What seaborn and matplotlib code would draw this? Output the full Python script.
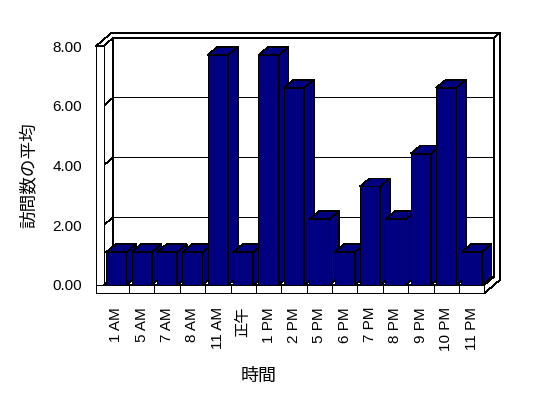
import matplotlib
matplotlib.use("Agg")
import matplotlib.pyplot as plt
import seaborn as sns
import pandas as pd
from matplotlib.patches import Polygon, Rectangle

# ---- data ----
hours = ["1 AM", "5 AM", "7 AM", "8 AM", "11 AM", "正午", "1 PM", "2 PM",
         "5 PM", "6 PM", "7 PM", "8 PM", "9 PM", "10 PM", "11 PM"]
avg_visits = [1.1, 1.1, 1.1, 1.1, 7.7, 1.1, 7.7, 6.6,
              2.2, 1.1, 3.3, 2.2, 4.4, 6.6, 1.1]
y_ticks = [0, 2, 4, 6, 8]
y_tick_labels = ["0.00", "2.00", "4.00", "6.00", "8.00"]
x_title = "時間"
y_title = "訪問数の平均"

sns.set_theme(style="white")
plt.rcParams["font.family"] = ["Liberation Sans", "Noto Sans CJK JP", "DejaVu Sans"]

W, H = 548, 398
fig = plt.figure(figsize=(W / 100, H / 100), dpi=100)
fig.patch.set_facecolor("white")

# front plane of the plot box in pixels
L, R, T, B = 103.6, 484.3, 46.0, 285.0
ax = fig.add_axes([L / W, 1 - B / H, (R - L) / W, (B - T) / H])

lw = 0.5
df = pd.DataFrame({"hour": hours, "avg": avg_visits})
sns.barplot(data=df, x="hour", y="avg", color="#000080", saturation=1,
            width=0.8, edgecolor="black", linewidth=lw, ax=ax)
bars = sorted([q for q in ax.patches if isinstance(q, Rectangle)],
              key=lambda q: q.get_x())

n = len(hours)
x0, x1 = -0.5, n - 0.5
y0, y1 = 0, 8
ax.set_xlim(x0, x1)
ax.set_ylim(y0, y1)

sx = (R - L) / n          # px per category
sy = (B - T) / (y1 - y0)  # px per value unit
ddx, ddy = 9.7 / sx, 8.3 / sy      # depth vector
wth = 7.5 / sx                     # left wall thickness
fth = 8.3 / sy                     # floor thickness
K = 1.6                            # outer depth (back wall thickness)

def dp(x, y, k):
    return (x + k * ddx, y + k * ddy)

def poly(pts, z, fc="white"):
    p = Polygon(pts, closed=True, facecolor=fc, edgecolor="black",
                linewidth=lw, clip_on=False, zorder=z, joinstyle="miter",
                antialiased=False)
    ax.add_patch(p)

def line(a, b, z):
    ax.plot([a[0], b[0]], [a[1], b[1]], color="black", lw=lw,
            clip_on=False, zorder=z, solid_capstyle="butt", antialiased=False)

# back wall inner face
poly([dp(x0, y0, 1), dp(x1, y0, 1), dp(x1, y1, 1), dp(x0, y1, 1)], 1)
for yv in y_ticks[1:-1]:
    line(dp(x0, yv, 1), dp(x1, yv, 1), 1.1)
# left wall inner face
poly([(x0, y0), dp(x0, y0, 1), dp(x0, y1, 1), (x0, y1)], 1.2)
for yv in y_ticks:
    line((x0, yv), dp(x0, yv, 1), 1.3)
# top face of walls
poly([(x0 - wth, y1), (x0, y1), dp(x0, y1, 1), dp(x1, y1, 1),
      dp(x1, y1, K), dp(x0 - wth, y1, K)], 1.4)
# right face of back wall + floor
poly([dp(x1, y1, 1), dp(x1, y1, K), dp(x1, y0 - fth, K), (x1, y0 - fth),
      (x1, y0), dp(x1, y0, 1)], 1.5)
# left wall front face
poly([(x0 - wth, y0), (x0, y0), (x0, y1), (x0 - wth, y1)], 1.6)
# floor top face
poly([(x0, y0), (x1, y0), dp(x1, y0, 1), dp(x0, y0, 1)], 1.7)
# floor front face with dividers
poly([(x0 - wth, y0 - fth), (x1, y0 - fth), (x1, y0), (x0 - wth, y0)], 1.8)
for i in range(n - 1):
    line((i + 0.5, y0 - fth), (i + 0.5, y0), 1.9)

# 3D bar faces (tops and right sides) built from seaborn's bars
bdx, bdy = 9.7 / sx, 8.0 / sy
for i, p in enumerate(bars):
    x, w, h = p.get_x(), p.get_width(), p.get_height()
    base = 10 + 3 * i
    p.set_zorder(base)
    p.set_clip_on(False)
    p.set_antialiased(False)
    poly([(x, h), (x + w, h), (x + w + bdx, h + bdy), (x + bdx, h + bdy)],
         base + 1, fc="#000080")
    poly([(x + w, 0), (x + w + bdx, bdy), (x + w + bdx, h + bdy), (x + w, h)],
         base + 2, fc="#000080")

ax.patch.set_visible(False)
for s in ax.spines.values():
    s.set_visible(False)
ax.grid(False)
ax.set_yticks(y_ticks)
ax.set_yticklabels(y_tick_labels)
ax.set_xticks(range(n))
ax.set_xticklabels(hours, rotation=90)
ax.tick_params(axis="y", length=0, pad=15.5, labelsize=11, colors="black")
ax.tick_params(axis="x", length=0, pad=15.8, labelsize=11, colors="black")
ax.set_xlabel("")
ax.set_ylabel("")

fig.text(259 / W, 1 - 376 / H, x_title, ha="center", va="center",
         fontsize=13, color="black")
fig.text(29 / W, 1 - 175 / H, y_title, ha="center", va="center",
         rotation=90, fontsize=12.7, color="black")

fig.savefig("out.png", dpi=100, facecolor="white")
